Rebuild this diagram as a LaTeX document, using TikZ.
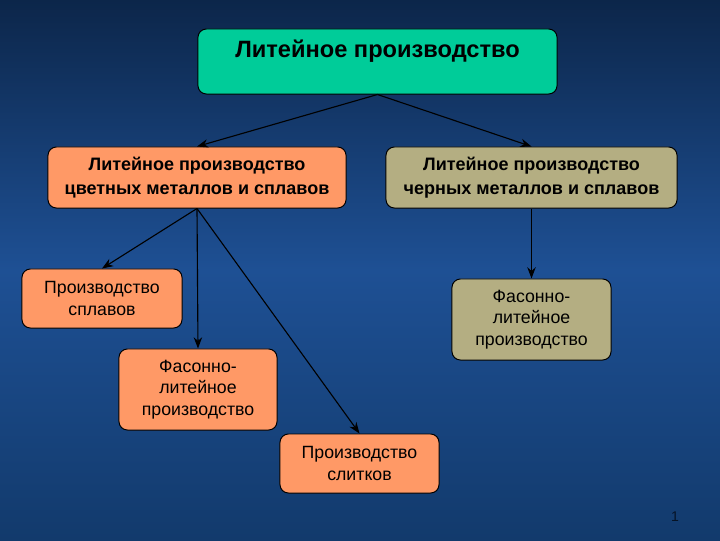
\documentclass[tikz,border=0pt]{standalone}
\usepackage{fontspec}
\setmainfont{Liberation Sans}
\usepackage{xcolor}
\usetikzlibrary{arrows.meta}

\definecolor{bgdark}{RGB}{12,38,74}
\definecolor{bgmid}{RGB}{30,80,148}
\definecolor{bgbot}{RGB}{18,58,108}
\definecolor{topgreen}{RGB}{0,204,153}
\definecolor{boxorange}{RGB}{255,153,102}
\definecolor{boxkhaki}{RGB}{180,174,130}

\begin{document}
\begin{tikzpicture}[x=0.025cm,y=-0.025cm,
    box/.style={draw=black,line width=0.7pt,rounded corners=6pt,align=center,inner sep=2pt},
    headbox/.style={box,fill=topgreen,font=\fontsize{16.8}{19}\selectfont\bfseries},
    midbox/.style={box,font=\fontsize{12.8}{17}\selectfont\bfseries},
    lowbox/.style={box,font=\fontsize{12.6}{15.2}\selectfont},
    link/.style={-{Stealth[length=8pt,width=6pt]},line width=0.8pt}]
  % Background
  \shade[top color=bgdark,bottom color=bgbot,middle color=bgmid] (0,0) rectangle (720,540);

  % Top box
  \node[headbox,minimum width=8.975cm,inner ysep=0pt,text height=0.7cm,text depth=0.925cm]
    (cast) at (377.5,61.5) {Литейное производство};

  % Second level
  \node[midbox,fill=boxorange,minimum width=7.45cm,minimum height=1.525cm]
    (color) at (197,177.5) {Литейное производство\\цветных металлов и сплавов};
  \node[midbox,fill=boxkhaki,minimum width=7.275cm,minimum height=1.525cm]
    (ferrous) at (531.5,177.5) {Литейное производство\\черных металлов и сплавов};

  % Third level
  \node[lowbox,fill=boxorange,minimum width=4cm,minimum height=1.475cm]
    (alloys) at (102,298.5) {Производство\\сплавов};
  \node[lowbox,fill=boxorange,minimum width=3.95cm,minimum height=2.025cm]
    (shapeL) at (198,389.5) {Фасонно-\\литейное\\производство};
  \node[lowbox,fill=boxorange,minimum width=3.975cm,minimum height=1.475cm]
    (ingots) at (359.5,463.5) {Производство\\слитков};
  \node[lowbox,fill=boxkhaki,minimum width=3.975cm,minimum height=2.025cm]
    (shapeR) at (531.5,319.5) {Фасонно-\\литейное\\производство};

  % Arrows
  \draw[link] (cast.south) -- (color.north);
  \draw[link] (cast.south) -- (ferrous.north);
  \draw[link] (color.south) -- (alloys.north);
  \draw[link] (color.south) -- (shapeL.north);
  \draw[link] (color.south) -- (ingots.north);
  \draw[link] (ferrous.south) -- (shapeR.north);

  % Page number
  \node[text=bgdark!50!black,font=\fontsize{10}{12}\selectfont] (pagenum) at (675,517) {1};
\end{tikzpicture}
\end{document}
